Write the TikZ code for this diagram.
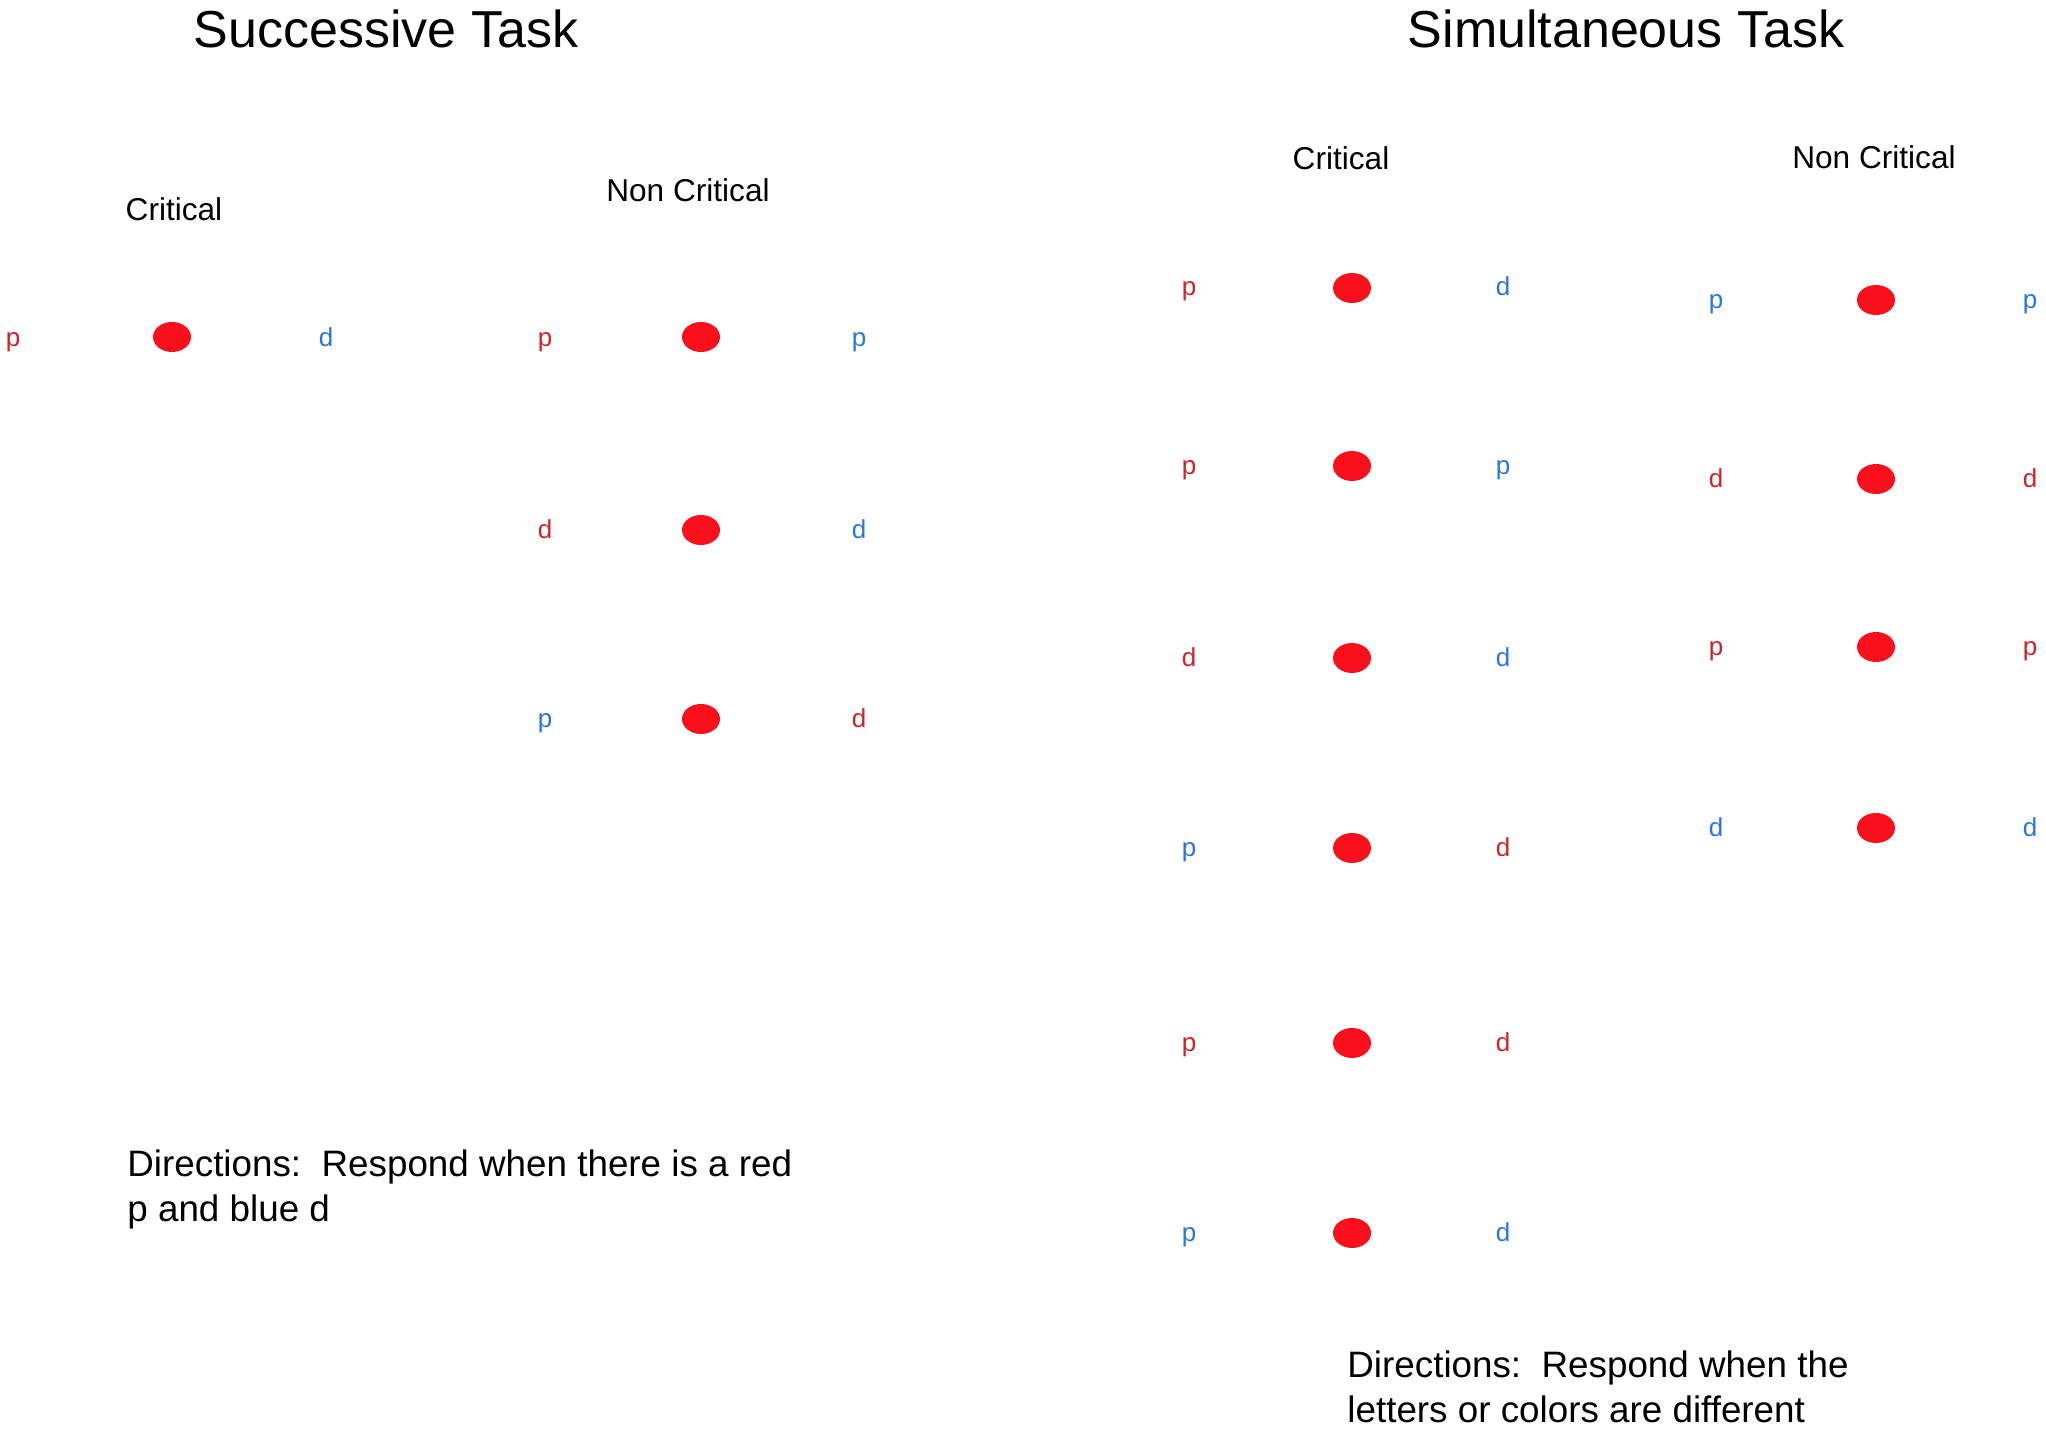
\documentclass[tikz,border=0pt]{standalone}
\usepackage{fontspec}
\setmainfont{Liberation Sans}
\usetikzlibrary{shapes.geometric}
\definecolor{txtred}{RGB}{204,36,40}
\definecolor{txtblue}{RGB}{42,118,220}
\definecolor{dotred}{RGB}{250,16,28}
\tikzset{
  dotnode/.style={ellipse,fill=dotred,draw=none,minimum width=19pt,minimum height=15pt,inner sep=0pt},
  rl/.style={text=txtred,anchor=mid,inner sep=0pt,yshift=-1pt,font=\fontsize{13pt}{15pt}\selectfont},
  bl/.style={text=txtblue,anchor=mid,inner sep=0pt,yshift=-1pt,font=\fontsize{13pt}{15pt}\selectfont},
  titletxt/.style={inner sep=0pt,font=\fontsize{26pt}{30pt}\selectfont},
  headtxt/.style={inner sep=0pt,font=\fontsize{15.8pt}{18pt}\selectfont},
  dirtxt/.style={inner sep=0pt,anchor=north west,align=left,font=\fontsize{18.4pt}{22.5pt}\selectfont}
}
\begin{document}
\begin{tikzpicture}[x=0.5pt,y=-0.5pt]
\useasboundingbox (0,0) rectangle (2046,1433);
% titles
\node[titletxt] (t1) at (386,29) {Successive Task};
\node[titletxt] (t2) at (1626,29) {Simultaneous Task};
\node[headtxt] (h1) at (174,209) {Critical};
\node[headtxt] (h2) at (688,190) {Non Critical};
\node[headtxt] (h3) at (1341,158) {Critical};
\node[headtxt] (h4) at (1874,157) {Non Critical};
% successive critical
\node[rl] (a1l) at (13,339) {p};
\node[dotnode] (a1d) at (172,337) {};
\node[bl] (a1r) at (326,339) {d};
% successive non critical
\node[rl] (b1l) at (545,339) {p};
\node[dotnode] (b1d) at (701,337) {};
\node[bl] (b1r) at (859,339) {p};
\node[rl] (b2l) at (545,531) {d};
\node[dotnode] (b2d) at (701,530) {};
\node[bl] (b2r) at (859,531) {d};
\node[bl] (b3l) at (545,720) {p};
\node[dotnode] (b3d) at (701,719) {};
\node[rl] (b3r) at (859,720) {d};
% simultaneous critical
\node[rl] (c1l) at (1189,288) {p};
\node[dotnode] (c1d) at (1352,288) {};
\node[bl] (c1r) at (1503,288) {d};
\node[rl] (c2l) at (1189,467) {p};
\node[dotnode] (c2d) at (1352,466) {};
\node[bl] (c2r) at (1503,467) {p};
\node[rl] (c3l) at (1189,659) {d};
\node[dotnode] (c3d) at (1352,658) {};
\node[bl] (c3r) at (1503,659) {d};
\node[bl] (c4l) at (1189,849) {p};
\node[dotnode] (c4d) at (1352,848) {};
\node[rl] (c4r) at (1503,849) {d};
\node[rl] (c5l) at (1189,1044) {p};
\node[dotnode] (c5d) at (1352,1043) {};
\node[rl] (c5r) at (1503,1044) {d};
\node[bl] (c6l) at (1189,1234) {p};
\node[dotnode] (c6d) at (1352,1233) {};
\node[bl] (c6r) at (1503,1234) {d};
% simultaneous non critical
\node[bl] (d1l) at (1716,301) {p};
\node[dotnode] (d1d) at (1876,300) {};
\node[bl] (d1r) at (2030,301) {p};
\node[rl] (d2l) at (1716,480) {d};
\node[dotnode] (d2d) at (1876,479) {};
\node[rl] (d2r) at (2030,480) {d};
\node[rl] (d3l) at (1716,648) {p};
\node[dotnode] (d3d) at (1876,647) {};
\node[rl] (d3r) at (2030,648) {p};
\node[bl] (d4l) at (1716,829) {d};
\node[dotnode] (d4d) at (1876,828) {};
\node[bl] (d4r) at (2030,829) {d};
% directions
\node[dirtxt] (dir1) at (127,1149) {Directions:\ \ Respond when there is a red\\p and blue d};
\node[dirtxt] (dir2) at (1347,1350) {Directions:\ \ Respond when the\\letters or colors are different};
\end{tikzpicture}
\end{document}
